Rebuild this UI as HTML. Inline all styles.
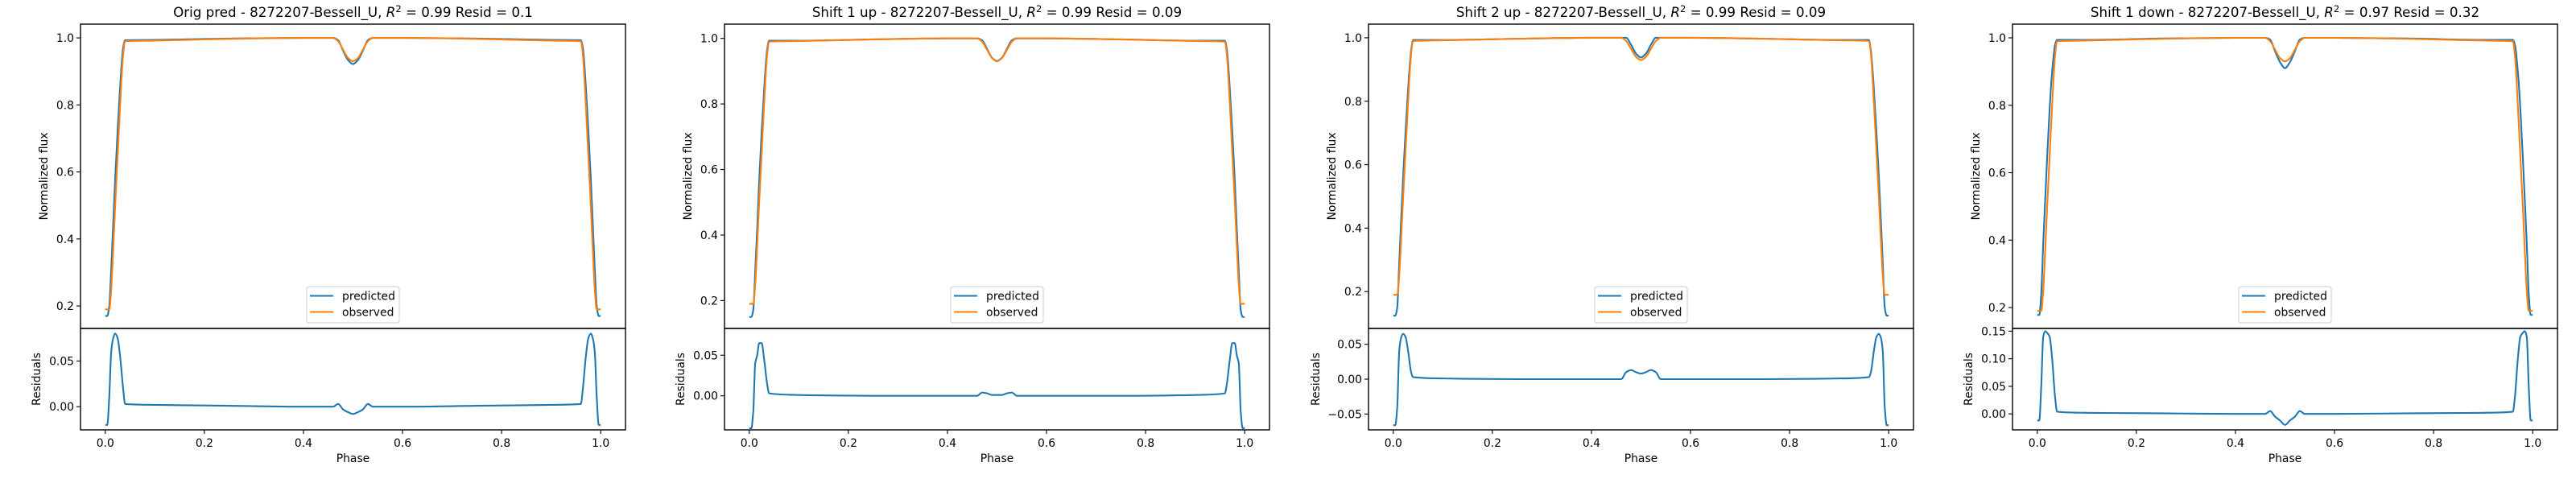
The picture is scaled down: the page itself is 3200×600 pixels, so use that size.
<!DOCTYPE html>
<html><head><meta charset="utf-8">
<style>
html,body{margin:0;padding:0;background:#fff;}
svg{display:block;font-family:"DejaVu Sans","Liberation Sans",sans-serif;}
</style></head>
<body>
<svg id="fig" width="3200" height="600" viewBox="0 0 3200 600" xmlns="http://www.w3.org/2000/svg"></svg>
<script>
// ---- data ----
const phase = [0,0.004,0.008,0.012,0.016,0.02,0.025,0.03,0.036,0.04,0.1,0.25,0.4,0.46,0.47,0.48,0.49,0.5,0.51,0.52,0.53,0.54,0.6,0.75,0.9,0.96,0.964,0.97,0.975,0.98,0.984,0.988,0.992,0.996,1.0];
const observed = [0.19,0.19,0.19,0.25,0.37,0.5,0.65,0.8,0.95,0.99,0.992,0.997,1.0,1.0,0.99,0.965,0.94,0.93,0.94,0.965,0.99,1.0,1.0,0.997,0.992,0.99,0.95,0.8,0.65,0.5,0.37,0.25,0.19,0.19,0.19];
const predOrig = [0.17,0.17,0.2,0.31,0.445,0.58,0.725,0.855,0.97,0.993,0.994,0.998,1.0,1.0,0.993,0.962,0.934,0.922,0.934,0.962,0.993,1.0,1.0,0.998,0.994,0.993,0.97,0.855,0.725,0.58,0.445,0.31,0.2,0.17,0.17];
const predUp1 = [0.15,0.15,0.17,0.29,0.42,0.565,0.715,0.845,0.965,0.993,0.993,0.997,1.0,1.0,0.994,0.968,0.941,0.931,0.941,0.968,0.994,1.0,1.0,0.997,0.993,0.993,0.965,0.845,0.715,0.565,0.42,0.29,0.17,0.15,0.15];
const predUp2 = [0.124,0.124,0.15,0.29,0.43,0.565,0.71,0.84,0.96,0.993,0.993,0.997,1.0,1.0,1.0,0.978,0.95,0.938,0.95,0.978,1.0,1.0,1.0,0.997,0.993,0.993,0.96,0.84,0.71,0.565,0.43,0.29,0.15,0.124,0.124];
const predDown1 = [0.178,0.178,0.24,0.39,0.52,0.647,0.79,0.9,0.98,0.994,0.994,0.998,1.0,1.0,0.995,0.96,0.928,0.91,0.928,0.96,0.995,1.0,1.0,0.998,0.994,0.994,0.98,0.9,0.79,0.647,0.52,0.39,0.24,0.178,0.178];
const titles = ["Orig pred","Shift 1 up","Shift 2 up","Shift 1 down"];
const r2Values = ["0.99","0.99","0.99","0.97"];
const residValues = ["0.1","0.09","0.09","0.32"];
const xTicks = [0,0.2,0.4,0.6,0.8,1.0];
const fluxTicks = [0.2,0.4,0.6,0.8,1.0];
const residTicks1 = [0,0.05];
const residTicks2 = [0,0.05];
const residTicks3 = [-0.05,0,0.05];
const residTicks4 = [0,0.05,0.1,0.15];
const fluxLims = [[0.133,1.041],[0.115,1.0435],[0.0838,1.043],[0.138,1.0406]];
const residLims = [[-0.0254,0.0857],[-0.042,0.083],[-0.0727,0.0727],[-0.029,0.155]];

const preds = [predOrig,predUp1,predUp2,predDown1];
const residTickSets = [residTicks1,residTicks2,residTicks3,residTicks4];
const NS = "http://www.w3.org/2000/svg";
const svg = document.getElementById('fig');
function mk(tag, attrs, parent){const e=document.createElementNS(NS,tag);for(const k in attrs)e.setAttribute(k,attrs[k]);(parent||svg).appendChild(e);return e;}
function fmt(v,d){let s=v.toFixed(d);if(v<0)s='\u2212'+Math.abs(v).toFixed(d);return s;}
// monotone cubic path
function smoothPath(X,Y){
  const n=X.length, d=[], m=[];
  for(let i=0;i<n-1;i++){d.push((Y[i+1]-Y[i])/(X[i+1]-X[i]));}
  m[0]=d[0];m[n-1]=d[n-2];
  for(let i=1;i<n-1;i++){
    if(d[i-1]*d[i]<=0)m[i]=0;
    else{const w1=2*(X[i+1]-X[i])+(X[i]-X[i-1]),w2=(X[i+1]-X[i])+2*(X[i]-X[i-1]);m[i]=(w1+w2)/(w1/d[i-1]+w2/d[i]);}
  }
  let s='M'+X[0].toFixed(2)+','+Y[0].toFixed(2);
  for(let i=0;i<n-1;i++){
    const h=X[i+1]-X[i];
    s+='C'+(X[i]+h/3).toFixed(2)+','+(Y[i]+m[i]*h/3).toFixed(2)+' '+(X[i+1]-h/3).toFixed(2)+','+(Y[i+1]-m[i+1]*h/3).toFixed(2)+' '+X[i+1].toFixed(2)+','+Y[i+1].toFixed(2);
  }
  return s;
}

for(let p=0;p<4;p++){
  const L=100+800*p, R=L+677, T=30, M=408, B=534;
  const g=mk('g',{});
  
  
  const xs=v=>L+(v+0.05)/1.1*(R-L);
  const [f0,f1]=fluxLims[p];
  const ys=v=>M-(v-f0)/(f1-f0)*(M-T);
  const [r0,r1]=residLims[p];
  const yr=v=>B-(v-r0)/(r1-r0)*(B-M);
  const t=mk('text',{x:(L+R)/2,y:21,'text-anchor':'middle','font-size':'16.7',fill:'#000'},g);
  
  
  t.appendChild(document.createTextNode(titles[p]+' - 8272207-Bessell_U, '));
  const ti=mk('tspan',{'font-style':'italic'},t);ti.textContent='R';
  const ts=mk('tspan',{dy:'-6','font-size':'11.5'},t);ts.textContent='2';
  const tr=mk('tspan',{dy:'6'},t);tr.textContent=' = '+r2Values[p]+' Resid = '+residValues[p];
  const pathFor=(arr,yf)=>smoothPath(phase.map(xs),arr.map(yf));
  const clipId='c'+p, clipId2='d'+p;
  const defs=mk('defs',{},g);
  const cp=mk('clipPath',{id:clipId},defs);mk('rect',{x:L,y:T,width:R-L,height:M-T},cp);
  const cp2=mk('clipPath',{id:clipId2},defs);mk('rect',{x:L,y:M,width:R-L,height:B-M},cp2);
  const lp=mk('path',{d:pathFor(preds[p],ys),fill:'none',stroke:'#1f77b4','stroke-width':'2.1','stroke-linejoin':'round','clip-path':'url(#'+clipId+')'},g);
  
  
  const lo=mk('path',{d:pathFor(observed,ys),fill:'none',stroke:'#ff7f0e','stroke-width':'2.1','stroke-linejoin':'round','clip-path':'url(#'+clipId+')'},g);
  
  
  const resid=preds[p].map((v,i)=>v-observed[i]);
  const lr=mk('path',{d:pathFor(resid,yr),fill:'none',stroke:'#1f77b4','stroke-width':'2.1','stroke-linejoin':'round','clip-path':'url(#'+clipId2+')'},g);
  
  
  const fr1=mk('rect',{x:L,y:T,width:R-L,height:M-T,fill:'none',stroke:'#000','stroke-width':'1.4'},g);
  
  
  const fr2=mk('rect',{x:L,y:M,width:R-L,height:B-M,fill:'none',stroke:'#000','stroke-width':'1.4'},g);
  
  
  fluxTicks.forEach(v=>{const y=ys(v);mk('line',{x1:L-5,x2:L,y1:y,y2:y,stroke:'#000','stroke-width':'1.1'},g);
    const tx=mk('text',{x:L-8,y:y+5,'text-anchor':'end','font-size':'13.9'},g);tx.textContent=v.toFixed(1);
    
    });
  const rt=residTickSets[p];
  rt.forEach(v=>{const y=yr(v);mk('line',{x1:L-5,x2:L,y1:y,y2:y,stroke:'#000','stroke-width':'1.1'},g);
    const tx=mk('text',{x:L-8,y:y+5,'text-anchor':'end','font-size':'13.9'},g);tx.textContent=fmt(v,2);
    
    });
  xTicks.forEach(v=>{const x=xs(v);mk('line',{x1:x,x2:x,y1:B,y2:B+5,stroke:'#000','stroke-width':'1.1'},g);
    const tx=mk('text',{x:x,y:B+21,'text-anchor':'middle','font-size':'13.9'},g);tx.textContent=v.toFixed(1);
    
    });
  const yl=mk('text',{x:0,y:0,'text-anchor':'middle','font-size':'13.9',transform:'translate('+(L-41)+','+((T+M)/2)+') rotate(-90)'},g);
  yl.textContent='Normalized flux';
  
  
  const off=(p===2)?61:50;
  const rl=mk('text',{x:0,y:0,'text-anchor':'middle','font-size':'13.9',transform:'translate('+(L-off)+','+((M+B)/2)+') rotate(-90)'},g);
  rl.textContent='Residuals';
  
  
  const xl=mk('text',{x:(L+R)/2,y:B+40,'text-anchor':'middle','font-size':'13.9'},g);
  xl.textContent='Phase';
  
  
  const lx=xs(0.5)-57.5, ly=356;
  const lg=mk('g',{},g);
  
  
  mk('rect',{x:lx,y:ly,width:115,height:45,rx:3,fill:'#fff','fill-opacity':'0.8',stroke:'#ccc','stroke-width':'1'},lg);
  [['#1f77b4','predicted'],['#ff7f0e','observed']].forEach((e,i)=>{
    const yy=ly+11.5+i*20;
    const en=mk('g',{},lg);
    
    
    mk('line',{x1:lx+4,x2:lx+33,y1:yy,y2:yy,stroke:e[0],'stroke-width':'2.1'},en);
    const tx=mk('text',{x:lx+44,y:yy+5,'font-size':'13.9'},en);tx.textContent=e[1];
  });
}
</script>
</body></html>
